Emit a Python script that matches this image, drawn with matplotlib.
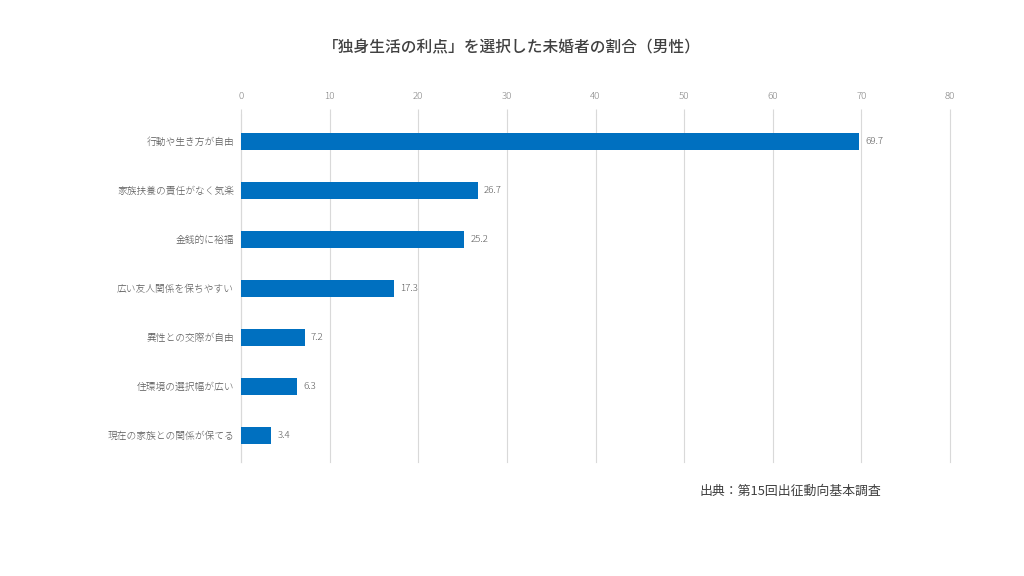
import matplotlib.pyplot as plt

plt.rcParams['font.family'] = ['Noto Sans CJK JP', 'DejaVu Sans']

# 独身生活の利点（男性）
項目 = ['行動や生き方が自由', '家族扶養の責任がなく気楽', '金銭的に裕福', '広い友人関係を保ちやすい',
      '異性との交際が自由', '住環境の選択幅が広い', '現在の家族との関係が保てる']
割合 = [69.7, 26.7, 25.2, 17.3, 7.2, 6.3, 3.4]
目盛 = [0, 10, 20, 30, 40, 50, 60, 70, 80]

fig = plt.figure(figsize=(10.24, 5.76), dpi=100)
ax = fig.add_axes([241 / 1024, 1 - 462 / 576, 709 / 1024, 347 / 576])

y = list(range(len(項目)))
ax.barh(y, 割合, height=0.33, color='#0070C0', zorder=3)

# 値ラベル
for yi, v in zip(y, 割合):
    ax.text(v + 0.7, yi, f'{v}', va='center', ha='left', fontsize=7, color='#595959',
            fontweight='light')

ax.set_xlim(0, 80)
ax.set_ylim(len(項目) - 0.46, -0.54)
ax.set_yticks(y)
ax.set_yticklabels(項目, fontsize=7, color='#595959', fontweight='light')
ax.set_xticks(目盛)
ax.xaxis.tick_top()
ax.tick_params(axis='x', length=4, color='#d9d9d9', labelsize=7, labelcolor='#808080', pad=6)
ax.tick_params(axis='y', length=0, pad=5)
for t in ax.get_xticklabels():
    t.set_fontweight('light')
ax.grid(axis='x', color='#d9d9d9', linewidth=0.8, zorder=0)
for gl in ax.get_xgridlines():
    gl.set_clip_on(False)
for s in ['top', 'right', 'bottom']:
    ax.spines[s].set_visible(False)
ax.spines['left'].set_color('#d9d9d9')

fig.text(0.5, 1 - 48 / 576, '「独身生活の利点」を選択した未婚者の割合（男性）',
         ha='center', va='center', fontsize=11.3, color='#404040', fontweight='medium')
fig.text(790 / 1024, 1 - 491 / 576, '出典：第15回出征動向基本調査',
         ha='center', va='center', fontsize=9.3, color='#404040')

fig.savefig('out.png', dpi=100, facecolor='white')
